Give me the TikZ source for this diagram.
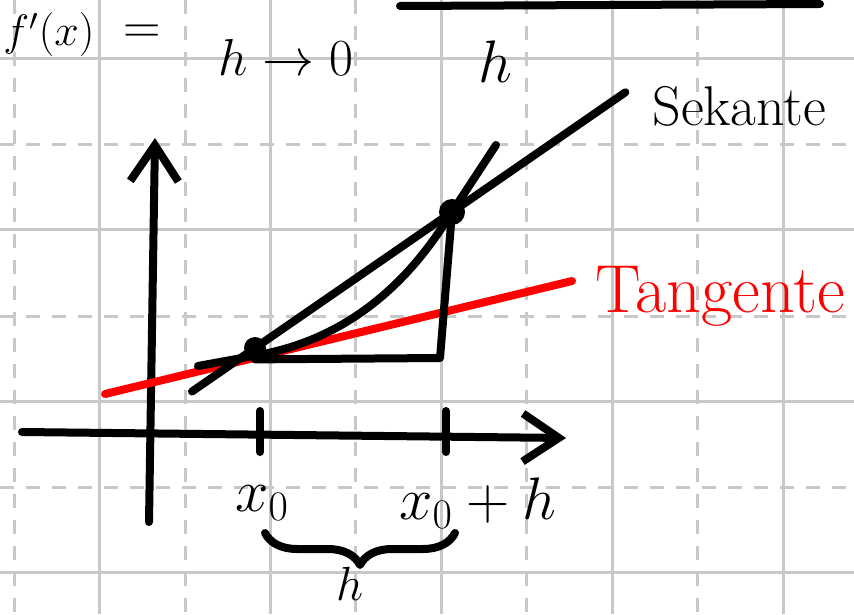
\RequirePackage{fix-cm}
\documentclass[tikz,border=0pt]{standalone}
\usepackage{amsmath,amssymb}
\usetikzlibrary{arrows.meta,calc,decorations.pathreplacing}
\definecolor{gridgray}{RGB}{200,200,200}
\definecolor{penred}{RGB}{255,0,0}
\definecolor{penblack}{RGB}{0,0,0}

\begin{document}
\begin{tikzpicture}[x=0.5pt, y=-0.5pt,
  gridline/.style={gridgray, line width=1.5pt},
  griddash/.style={gridline, dash pattern=on 7pt off 6pt},
  pen/.style={penblack, line width=4pt, line cap=round, line join=round},
  redpen/.style={pen, penred},
  axisarrow/.style={-{Straight Barb[length=18pt, width=24pt]}},
  dot/.style={circle, fill=penblack, inner sep=0pt, minimum size=11pt},
  hand/.style={inner sep=0pt, font=\fontsize{30}{36}\selectfont}
]
\useasboundingbox (0,0) rectangle (854,614);
\clip (0,0) rectangle (854,614);
\fill[white] (0,0) rectangle (854,614);

% squared paper
\foreach \x in {14,185,355,526,697} \draw[griddash] (\x,0) -- (\x,614);
\foreach \y in {145,316,487} \draw[griddash] (0,\y) -- (854,\y);
\foreach \x in {99,270,441,612,783} \draw[gridline] (\x,0) -- (\x,614);
\foreach \y in {59,230,401,572} \draw[gridline] (0,\y) -- (854,\y);

% top: the difference quotient
\node[hand, anchor=base west, font=\fontsize{22}{26}\selectfont] (fx) at (3,46) {$f'(x)$};
\node[hand, anchor=base, font=\fontsize{26}{30}\selectfont] (eq) at (142,44) {$=$};
\node[hand, font=\fontsize{26}{30}\selectfont] (limsub) at (286,57) {$h\to 0$};
\draw[pen] (400,6) -- (820,4);
\node[hand] (den) at (495,62) {$h$};

% axes
\coordinate (O) at (149,436);
\coordinate (ybot) at (149,522);
\coordinate (ytop) at (155,138);
\coordinate (xl) at (22,432);
\coordinate (xr) at (566,438);
\draw[pen, axisarrow] (ybot) -- (ytop);
\draw[pen, axisarrow] (xl) -- (xr);

% ticks and labels
\coordinate (x0) at (260,436);
\coordinate (x1) at (446,436);
\foreach \t in {x0,x1} \draw[pen] ($(\t)+(0,-25)$) -- ($(\t)+(0,16)$);
\node[hand] (lx0) at (262,503) {$x_0$};
\node[hand] (lx1) at (478,503) {$x_0+h$};

% brace for h
\coordinate (bl) at (265,533);
\coordinate (br) at (455,533);
\draw[pen, decorate, decoration={brace, mirror, amplitude=16pt}] (bl) -- (br);
\node[hand, anchor=base, font=\fontsize{24}{28}\selectfont] (hb) at (350,600) {$h$};

% points on the graph
\node[dot] (P0) at (255,348) {};
\node[dot, minimum size=13pt] (P1) at (452,212) {};
\coordinate (Q) at (440,358);

% tangent
\coordinate (tl) at (105,394);
\coordinate (tr) at (572,281);
\draw[redpen] (tl) -- (tr);
\node[anchor=base west, inner sep=0pt, text=penred, font=\fontsize{34}{40}\selectfont] (tan) at (595,312) {Tangente};

% graph of f
\coordinate (cs) at (198,366);
\coordinate (cA) at (258,355);
\coordinate (ce) at (496,145);
\draw[pen] (cs) -- (cA) .. controls (370,335) and (426,254) .. (P1.center) -- (ce);

% secant and slope triangle
\draw[pen] ($(P0)!-0.32!(P1)$) -- ($(P0)!1.88!(P1)$);
\draw[pen] (P0.south) -- (Q) -- (P1.center);
\node[hand, anchor=base west, font=\fontsize{28}{34}\selectfont] (sek) at (652,126) {Sekante};

\end{tikzpicture}
\end{document}
